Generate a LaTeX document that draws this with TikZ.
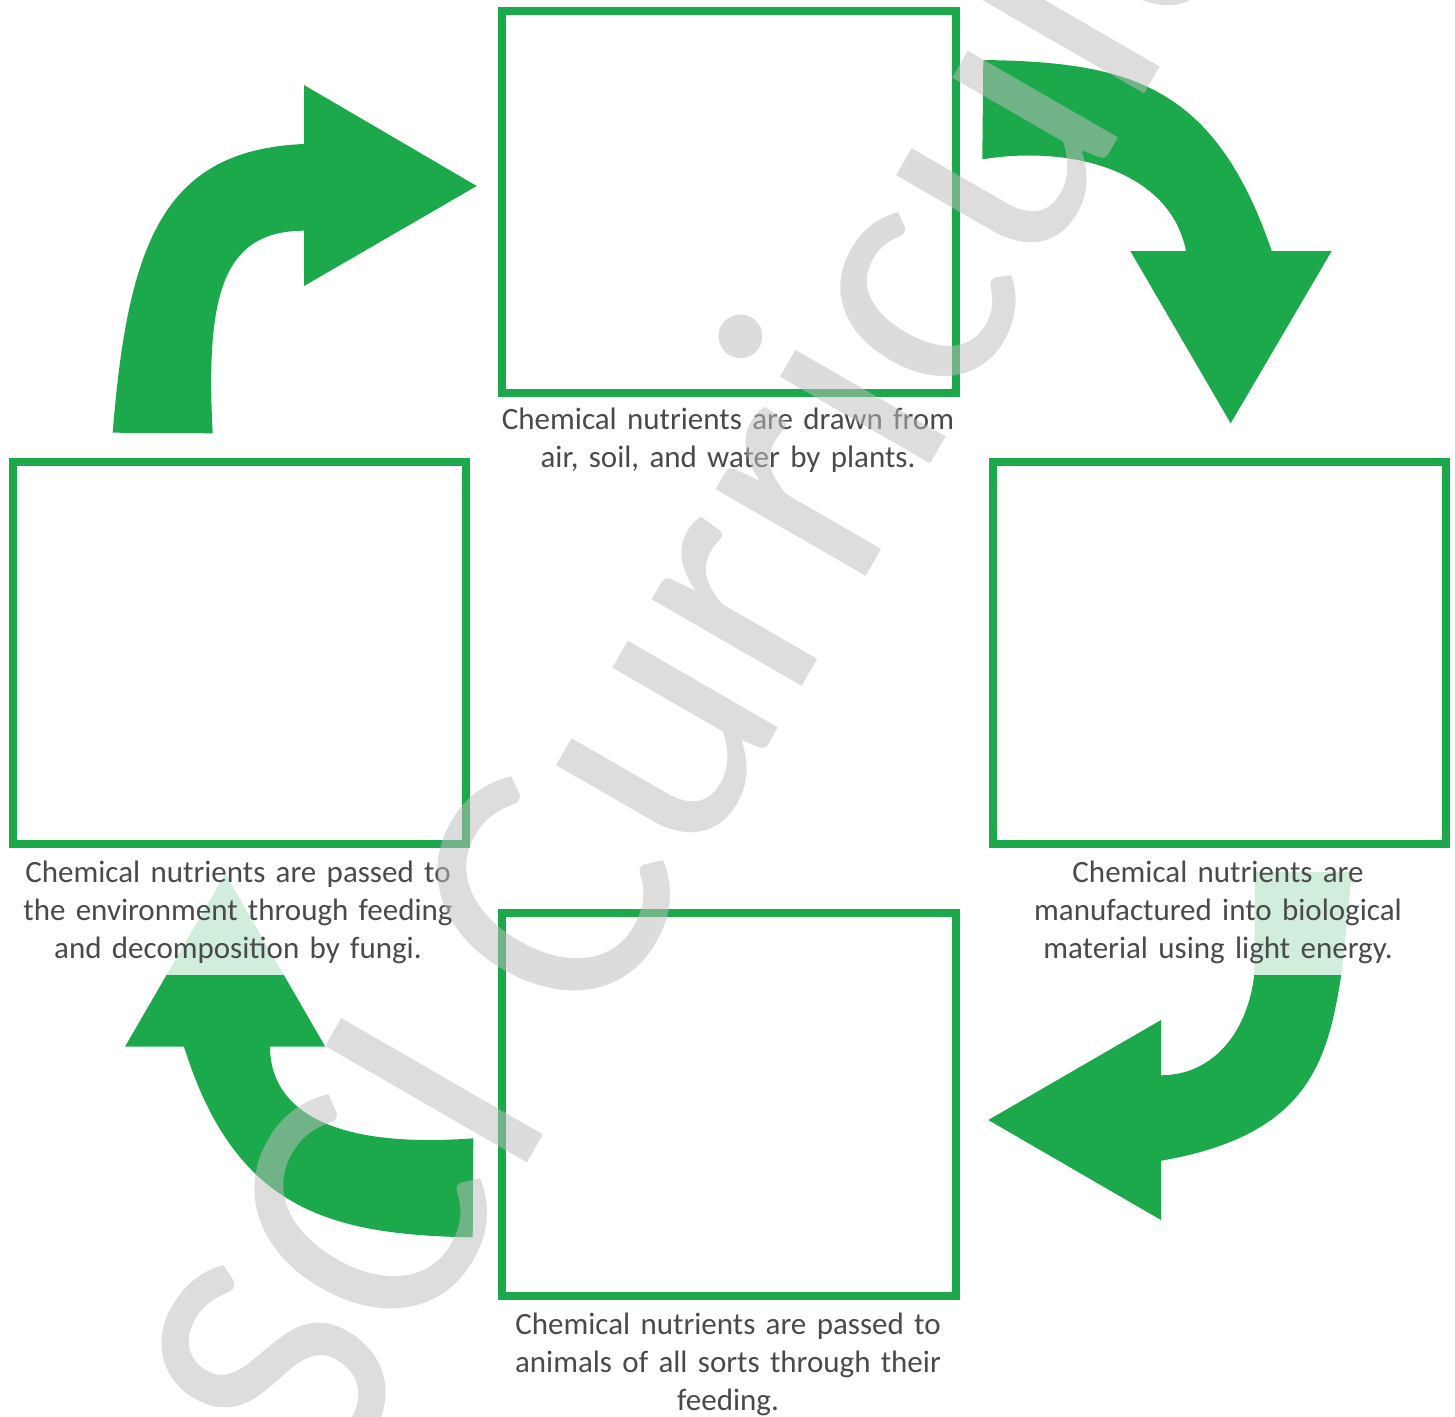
\documentclass[tikz,border=0pt]{standalone}
\usepackage{fontspec}
\setmainfont{Carlito}
\definecolor{cgreen}{HTML}{1BA94C}
\definecolor{cgray}{HTML}{4A4A4A}
\definecolor{wmgray}{RGB}{189,189,189}
\tikzset{
  stagebox/.style={draw=cgreen, line width=8pt, fill=white, inner sep=0pt,
    minimum width=453.5pt, minimum height=382.3pt},
  stagelabel/.style={fill=white, fill opacity=0.8, text opacity=1, text=cgray,
    font=\fontsize{31}{38}\selectfont, align=center, text width=470pt,
    inner xsep=0pt, inner ysep=11pt},
  bigarrow/.style={fill=cgreen},
  watermark/.style={text=wmgray, text opacity=0.52, font=\fontsize{363}{363}\selectfont,
    inner sep=0pt, rotate=60, anchor=base west}
}
\begin{document}
\begin{tikzpicture}[x=1pt,y=-1pt]
\useasboundingbox (0,0) rectangle (1455,1416);

% arrows
\fill[bigarrow] (112.7,432.7) -- (212.7,433.3)
  .. controls (205,290) and (225,231) .. (304,230.7)
  -- (304,286) -- (476.7,186) -- (304,85) -- (304,144)
  .. controls (165,150) and (128,240) .. (112.7,432.7)
  -- cycle;

\fill[bigarrow] (982.3,159.3) -- (983.3,60)
  .. controls (1130,62) and (1215,85) .. (1271.7,251)
  -- (1331.7,251) -- (1230.7,423.3) -- (1130.3,251) -- (1186,251)
  .. controls (1170,170) and (1070,145) .. (982.3,159.3)
  -- cycle;

\fill[bigarrow] (1255,872) -- (1352,872) -- (1341.7,972)
  .. controls (1328,1060) and (1310,1135) .. (1161,1160.7)
  -- (1161,1220) -- (988.3,1120) -- (1161,1020) -- (1161,1075.3)
  .. controls (1215,1075) and (1248,1030) .. (1254.3,974.3)
  -- cycle;

\fill[bigarrow] (473.3,1138.3) -- (472.7,1237.3)
  .. controls (330,1235) and (235,1210) .. (184,1046.7)
  -- (125,1046.7) -- (225.2,873.7) -- (325.3,1046.7) -- (270,1046.7)
  .. controls (270,1100) and (315,1150) .. (473.3,1138.3)
  -- cycle;

% boxes
\node[stagebox] (top) at (728.75,201.85) {};
\node[stagebox] (left) at (239.25,652.95) {};
\node[stagebox] (right) at (1219.25,652.95) {};
\node[stagebox] (bottom) at (728.75,1104.5) {};

% labels
\node[stagelabel] (ltop) at (728,440.4) {Chemical nutrients are drawn from\\air, soil, and water by plants.};
\node[stagelabel] (lleft) at (238,912.4) {Chemical nutrients are passed to\\the environment through feeding\\and decomposition by fungi.};
\node[stagelabel] (lright) at (1218,912.4) {Chemical nutrients are\\manufactured into biological\\material using light energy.};
\node[stagelabel] (lbottom) at (728,1364.4) {Chemical nutrients are passed to\\animals of all sorts through their\\feeding.};

% watermark
\node[watermark] (wm) at (332,1501) {SCI Curriculum};
\end{tikzpicture}
\end{document}
